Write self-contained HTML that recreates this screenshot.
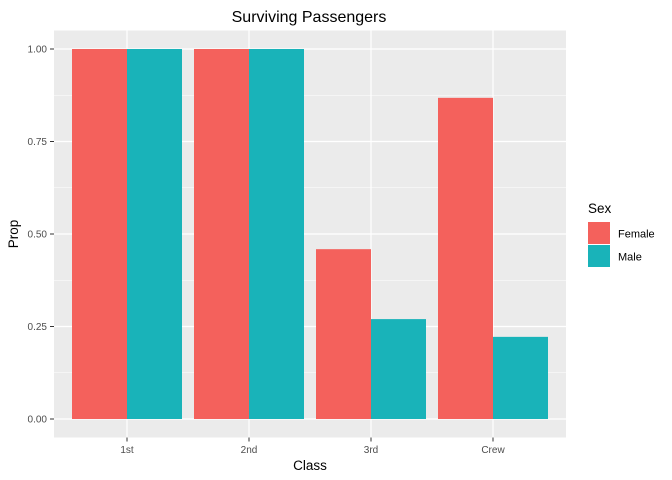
<!DOCTYPE html>
<html><head><meta charset="utf-8"><style>
body{margin:0;background:#fff;}
svg{display:block;font-family:"Liberation Sans",sans-serif;}
</style></head><body>
<svg id="chart" width="672" height="480" viewBox="0 0 672 480">
<rect width="672" height="480" fill="#fff"/>
<text x="309" y="22" font-size="16" text-anchor="middle" fill="#000">Surviving Passengers</text>
<rect x="54" y="30.5" width="512" height="407" fill="#ebebeb"/>
<g id="grid"></g>
<g id="bars"></g>
<g id="axes"></g>
<text x="310" y="470" font-size="13.5" text-anchor="middle">Class</text>
<text transform="translate(18,234) rotate(-90)" font-size="13.5" text-anchor="middle">Prop</text>
<g>
<text x="588" y="213" font-size="13.5">Sex</text>
<rect x="588" y="222" width="22" height="22" fill="#f4615c"/>
<text x="618" y="237.5" font-size="11">Female</text>
<rect x="588" y="245" width="22" height="22" fill="#19b3b9"/>
<text x="618" y="260.5" font-size="11">Male</text>
</g>
</svg>
<script>
const categories=["1st","2nd","3rd","Crew"];
const female=[1.0,1.0,0.459,0.868];
const male=[1.0,1.0,0.270,0.222];
const yTicks=[0,0.25,0.5,0.75,1.0];
const yTickLabels=["0.00","0.25","0.50","0.75","1.00"];
const NS="http://www.w3.org/2000/svg";
const y=v=>419-v*370;
const xc=i=>127+i*122;
const bw=55;
function mk(tag,attrs,parent){const e=document.createElementNS(NS,tag);for(const k in attrs)e.setAttribute(k,attrs[k]);document.getElementById(parent).appendChild(e);return e;}
yTicks.forEach((t,i)=>{
 if(i<yTicks.length-1){const m=mk('line',{x1:54,x2:566,y1:y((t+yTicks[i+1])/2),y2:y((t+yTicks[i+1])/2),stroke:'#fff','stroke-width':0.6},'grid');
 
 }
 const g=mk('line',{x1:54,x2:566,y1:y(t),y2:y(t),stroke:'#fff','stroke-width':1.2},'grid');
 
 
 const tk=mk('line',{x1:50,x2:54,y1:y(t),y2:y(t),stroke:'#333','stroke-width':1},'axes');
 
 
 const l=mk('text',{x:47,y:y(t)+3.5,'font-size':10,'text-anchor':'end',fill:'#4d4d4d'},'axes');
 l.textContent=yTickLabels[i];
 
 
});
categories.forEach((c,i)=>{
 const g=mk('line',{x1:xc(i),x2:xc(i),y1:30.5,y2:437.5,stroke:'#fff','stroke-width':1.2},'grid');
 
 
 const bf=mk('rect',{x:xc(i)-bw,y:y(female[i]),width:bw,height:419-y(female[i]),fill:'#f4615c'},'bars');
 
 
 const bm=mk('rect',{x:xc(i),y:y(male[i]),width:bw,height:419-y(male[i]),fill:'#19b3b9'},'bars');
 
 
 const tk=mk('line',{x1:xc(i),x2:xc(i),y1:437.5,y2:441.5,stroke:'#333','stroke-width':1},'axes');
 
 
 const l=mk('text',{x:xc(i),y:453,'font-size':10,'text-anchor':'middle',fill:'#4d4d4d'},'axes');
 l.textContent=c;
 
 
});
</script>
</body></html>
